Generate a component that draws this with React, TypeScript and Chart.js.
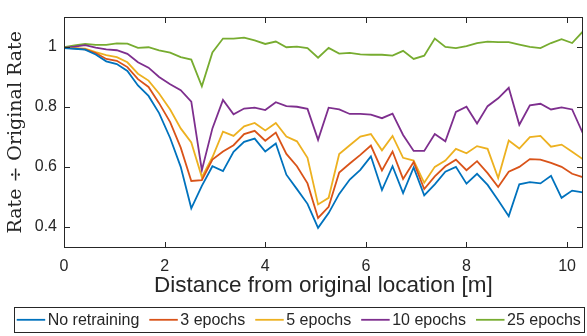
import React, { useEffect, useRef } from "react";
import { Chart, registerables } from "chart.js";

Chart.register(...registerables);

// Distance from original location [m]
const distances = [
  0, 0.21, 0.42, 0.63, 0.84, 1.05, 1.26, 1.47, 1.68, 1.89,
  2.11, 2.32, 2.53, 2.74, 2.95, 3.16, 3.37, 3.58, 3.79, 4.0,
  4.21, 4.42, 4.63, 4.84, 5.05, 5.26, 5.47, 5.68, 5.89, 6.1,
  6.32, 6.53, 6.74, 6.95, 7.16, 7.37, 7.58, 7.79, 8.0, 8.21,
  8.42, 8.63, 8.84, 9.05, 9.26, 9.47, 9.68, 9.89, 10.1, 10.31,
];

const noRetraining = [
  0.995, 0.993, 0.99, 0.974, 0.951, 0.942, 0.919, 0.871, 0.836, 0.779,
  0.696, 0.6, 0.462, 0.537, 0.602, 0.586, 0.65, 0.683, 0.694, 0.651,
  0.678, 0.574, 0.526, 0.477, 0.397, 0.446, 0.51, 0.558, 0.59, 0.635,
  0.523, 0.602, 0.513, 0.598, 0.505, 0.542, 0.584, 0.6, 0.544, 0.577,
  0.54, 0.489, 0.436, 0.542, 0.549, 0.545, 0.57, 0.497, 0.521, 0.515,
];

const epochs3 = [
  0.996, 0.994, 0.991, 0.979, 0.959, 0.953, 0.932, 0.892, 0.866, 0.812,
  0.749, 0.664, 0.553, 0.556, 0.624, 0.651, 0.672, 0.709, 0.72, 0.687,
  0.714, 0.643, 0.602, 0.545, 0.43, 0.467, 0.581, 0.611, 0.64, 0.671,
  0.588, 0.651, 0.56, 0.616, 0.526, 0.568, 0.602, 0.624, 0.589, 0.619,
  0.579, 0.533, 0.584, 0.6, 0.626, 0.624, 0.613, 0.6, 0.577, 0.566,
];

const epochs5 = [
  0.996, 0.995, 0.993, 0.982, 0.972, 0.965, 0.948, 0.91, 0.887, 0.844,
  0.791, 0.728, 0.681, 0.566, 0.632, 0.717, 0.703, 0.735, 0.746, 0.721,
  0.746, 0.701, 0.685, 0.63, 0.475, 0.497, 0.643, 0.672, 0.701, 0.709,
  0.655, 0.703, 0.63, 0.621, 0.547, 0.6, 0.621, 0.66, 0.645, 0.669,
  0.66, 0.563, 0.688, 0.661, 0.699, 0.703, 0.667, 0.674, 0.65, 0.626,
];

const epochs10 = [
  0.996, 1.0, 1.005, 0.997, 0.991, 0.988, 0.976, 0.948, 0.93, 0.899,
  0.875, 0.855, 0.817, 0.589, 0.728, 0.823, 0.775, 0.794, 0.797, 0.789,
  0.815, 0.802, 0.8, 0.793, 0.69, 0.797, 0.791, 0.776, 0.776, 0.774,
  0.762, 0.777, 0.706, 0.653, 0.653, 0.709, 0.685, 0.783, 0.8, 0.744,
  0.802, 0.828, 0.863, 0.74, 0.805, 0.81, 0.791, 0.798, 0.791, 0.713,
];

const epochs25 = [
  0.998, 1.004, 1.009, 1.006, 1.006, 1.011, 1.01, 0.996, 0.998, 0.988,
  0.98, 0.965, 0.957, 0.868, 0.981, 1.027, 1.027, 1.03, 1.021, 1.009,
  1.017, 0.998, 1.0, 0.995, 0.963, 0.996, 0.977, 0.979, 0.974, 0.973,
  0.973, 0.97, 0.986, 0.959, 0.97, 1.027, 0.999, 0.995, 1.002, 1.012,
  1.017, 1.015, 1.015, 1.007, 0.999, 0.995, 1.012, 1.025, 1.012, 1.05,
];

const xTicks = [0, 2, 4, 6, 8, 10];
const yTicks = [0.4, 0.6, 0.8, 1];
const seriesNames = ["No retraining", "3 epochs", "5 epochs", "10 epochs", "25 epochs"];
const seriesColors = ["#0072BD", "#D95319", "#EDB120", "#7E2F8E", "#77AC30"];
const xTitle = "Distance from original location [m]";
const yTitle = "Rate \u00F7 Original Rate";

const AXIS = "#262626";
const SANS = '"Liberation Sans", Arial, Helvetica, sans-serif';

const framePlugin = {
  id: "matlabFrame",
  afterDatasetsDraw(chart: any) {
    const { ctx, chartArea, scales } = chart;
    const left = Math.round(chartArea.left) + 0.5;
    const right = Math.round(chartArea.right) - 0.5;
    const top = Math.round(chartArea.top) + 0.5;
    const bottom = Math.round(chartArea.bottom) - 0.5;
    const tl = 5.5;
    ctx.save();
    ctx.strokeStyle = AXIS;
    ctx.lineWidth = 1;
    ctx.strokeRect(left, top, right - left, bottom - top);
    ctx.beginPath();
    for (const v of xTicks) {
      const px = Math.round(scales.x.getPixelForValue(v)) + 0.5;
      ctx.moveTo(px, bottom);
      ctx.lineTo(px, bottom - tl);
      ctx.moveTo(px, top);
      ctx.lineTo(px, top + tl);
    }
    for (const v of yTicks) {
      const py = Math.round(scales.y.getPixelForValue(v)) + 0.5;
      ctx.moveTo(left, py);
      ctx.lineTo(left + tl, py);
      ctx.moveTo(right, py);
      ctx.lineTo(right - tl, py);
    }
    ctx.stroke();
    ctx.restore();
  },
};

const legendPlugin = {
  id: "boxLegend",
  afterDraw(chart: any) {
    const { ctx } = chart;
    ctx.save();
    ctx.fillStyle = "#ffffff";
    ctx.fillRect(14.5, 307.5, 570, 25);
    ctx.strokeStyle = AXIS;
    ctx.lineWidth = 1;
    ctx.strokeRect(14.5, 307.5, 570, 25);
    ctx.font = `16px ${SANS}`;
    ctx.textBaseline = "middle";
    ctx.textAlign = "left";
    let cx = 16.7;
    const cy = 319.8;
    chart.data.datasets.forEach((ds: any) => {
      ctx.strokeStyle = ds.borderColor;
      ctx.lineWidth = 1.8;
      ctx.beginPath();
      ctx.moveTo(cx, cy);
      ctx.lineTo(cx + 28.5, cy);
      ctx.stroke();
      ctx.fillStyle = AXIS;
      ctx.fillText(ds.label, cx + 31, cy + 0.5);
      cx += 31 + ctx.measureText(ds.label).width + 10;
    });
    ctx.restore();
  },
};

export default function App() {
  const canvasRef = useRef<HTMLCanvasElement | null>(null);

  useEffect(() => {
    const canvas = canvasRef.current;
    if (!canvas) return;
    const seriesValues = [noRetraining, epochs3, epochs5, epochs10, epochs25];
    const chart = new Chart(canvas, {
      type: "line",
      data: {
        datasets: seriesValues.map((vals, k) => ({
          label: seriesNames[k],
          data: distances.map((d, i) => ({ x: d, y: vals[i] })),
          borderColor: seriesColors[k],
          backgroundColor: seriesColors[k],
          borderWidth: 1.8,
          pointRadius: 0,
          tension: 0,
          fill: false,
        })),
      },
      options: {
        animation: false,
        responsive: true,
        maintainAspectRatio: false,
        devicePixelRatio: 1,
        layout: { padding: { left: 0, top: 6, right: 4.3, bottom: 36.3 } },
        plugins: {
          legend: { display: false },
          tooltip: { enabled: false },
        },
        scales: {
          x: {
            type: "linear",
            min: 0,
            max: 10.31,
            afterBuildTicks: (scale: any) => {
              scale.ticks = xTicks.map((v) => ({ value: v }));
            },
            afterFit: (scale: any) => {
              scale.height = 51.7;
            },
            grid: { display: false, drawTicks: false },
            border: { display: false },
            ticks: {
              maxRotation: 0,
              autoSkip: false,
              padding: 9,
              color: AXIS,
              font: { family: SANS, size: 16 },
              callback: (v: any) => String(v),
            },
            title: {
              display: true,
              text: xTitle,
              color: AXIS,
              font: { family: SANS, size: 22.5 },
              padding: { top: 0, bottom: 0 },
            },
          },
          y: {
            type: "linear",
            min: 0.33,
            max: 1.1,
            afterBuildTicks: (scale: any) => {
              scale.ticks = yTicks.map((v) => ({ value: v }));
            },
            afterFit: (scale: any) => {
              scale.width = 64;
            },
            grid: { display: false, drawTicks: false },
            border: { display: false },
            ticks: {
              autoSkip: false,
              padding: 7,
              color: AXIS,
              font: { family: SANS, size: 16 },
              callback: (v: any) => String(v),
            },
            title: {
              display: true,
              text: yTitle,
              color: AXIS,
              font: { family: '"DejaVu Serif", serif', size: 19 },
              padding: { top: 5, bottom: 0 },
            },
          },
        },
      },
      plugins: [framePlugin, legendPlugin],
    });
    return () => chart.destroy();
  }, []);

  return (
    <div style={{ position: "fixed", left: 0, top: 0, width: 587, height: 336, background: "#fff" }}>
      <canvas ref={canvasRef} />
    </div>
  );
}
